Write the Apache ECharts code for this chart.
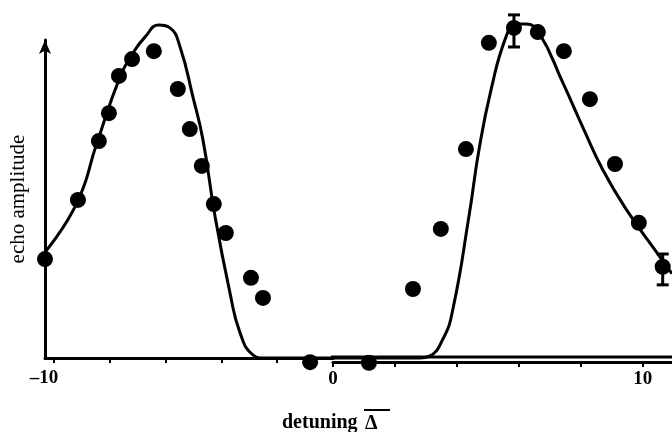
<!DOCTYPE html>
<html>
<head>
<meta charset="utf-8">
<script src="https://cdn.jsdelivr.net/npm/echarts@6/dist/echarts.min.js"></script>
<style>
  html, body { margin: 0; padding: 0; background: #fff; }
  #chart { width: 672px; height: 432px; }
</style>
</head>
<body>
<div id="chart"></div>
<script>
// Measured echo amplitude (dots) against detuning, negative side
const leftDotX = [-10.32, -9.14, -8.39, -8.03, -7.67, -7.20, -6.42, -5.56, -5.13, -4.70, -4.27, -3.84, -2.94, -2.51, -0.82];
const leftDotY = [0.311, 0.497, 0.682, 0.770, 0.887, 0.940, 0.965, 0.846, 0.720, 0.604, 0.484, 0.393, 0.252, 0.189, -0.013];

// Measured echo amplitude, positive side
const rightDotX = [1.16, 2.58, 3.48, 4.29, 5.03, 5.84, 6.61, 7.45, 8.29, 9.10, 9.87, 10.64];
const rightDotY = [-0.015, 0.217, 0.406, 0.657, 0.991, 1.038, 1.025, 0.965, 0.814, 0.610, 0.425, 0.287];

// Error bars on two of the points
const errX = [5.84, 10.64];
const errLow = [0.978, 0.230];
const errHigh = [1.079, 0.327];

// Theory curve, negative side
const leftCurveX = [-10.32, -9.18, -8.46, -7.63, -7.17, -6.74, -6.24, -5.84, -5.48, -5.02, -4.66, -4.23, -3.69, -3.33, -2.87, -2.44, 0];
const leftCurveY = [0.333, 0.487, 0.676, 0.884, 0.959, 1.009, 1.047, 1.038, 0.978, 0.821, 0.686, 0.447, 0.204, 0.079, 0.010, 0, 0];

// Theory curve, positive side
const rightCurveX = [0, 2.81, 3.10, 3.55, 3.87, 4.39, 4.71, 5.10, 5.58, 5.90, 6.23, 6.65, 7.42, 8.06, 8.71, 9.48, 10.55, 10.94];
const rightCurveY = [0, 0, 0.005, 0.060, 0.154, 0.447, 0.654, 0.843, 1.009, 1.050, 1.050, 1.022, 0.865, 0.726, 0.591, 0.465, 0.318, 0.265];

// Zero level of the theory curve
const zeroLineX = [-0.32, 10.94];
const zeroLineY = [0.003, 0.003];

// Tick marks and labelled ticks on the detuning axis
const leftTicks = [-10, -8, -6, -4, -2];
const leftLabels = [-10];
const rightTicks = [0, 2, 4, 6, 8, 10];
const rightLabels = [0, 10];

const zip = (xs, ys) => xs.map((x, i) => [x, ys[i]]);
const FONT = 'Liberation Serif';
const INK = '#000';

const tickStyle = { show: true, inside: false, length: 5, lineStyle: { color: INK, width: 2 } };
const labelStyle = {
  show: true, color: INK, fontFamily: FONT, fontSize: 19, fontWeight: 'bold',
  formatter: v => (v < 0 ? '\u2013' + Math.abs(v) : String(v))
};

const chart = echarts.init(document.getElementById('chart'), null, { renderer: 'canvas' });

chart.setOption({
  animation: false,
  backgroundColor: '#fff',
  grid: [
    { left: 45, right: 339, top: 40, bottom: 74 },
    { left: 333, right: 0, top: 40, bottom: 70 }
  ],
  xAxis: [
    {
      type: 'value', gridIndex: 0, min: -10.32, max: 0,
      axisLine: { show: true, onZero: false, lineStyle: { color: INK, width: 3 } },
      axisTick: Object.assign({ customValues: leftTicks }, tickStyle),
      axisLabel: Object.assign({ customValues: leftLabels, margin: 11, padding: [0, 20, 0, 0] }, labelStyle),
      splitLine: { show: false }
    },
    {
      type: 'value', gridIndex: 1, min: 0, max: 10.94,
      axisLine: { show: true, onZero: false, lineStyle: { color: INK, width: 3 } },
      axisTick: Object.assign({ customValues: rightTicks }, tickStyle),
      axisLabel: Object.assign({ customValues: rightLabels, margin: 8 }, labelStyle),
      splitLine: { show: false }
    }
  ],
  yAxis: [
    {
      type: 'value', gridIndex: 0, min: 0, max: 1,
      name: 'echo amplitude', nameLocation: 'middle', nameRotate: 90, nameGap: 16,
      nameTextStyle: { color: INK, fontFamily: FONT, fontSize: 21 },
      axisLine: {
        show: true, onZero: false, symbol: ['none', 'arrow'], symbolSize: [9, 14],
        lineStyle: { color: INK, width: 3 }
      },
      axisTick: { show: false }, axisLabel: { show: false }, splitLine: { show: false }
    },
    {
      type: 'value', gridIndex: 1, min: -0.0126, max: 1,
      show: false, splitLine: { show: false }
    }
  ],
  graphic: [
    {
      type: 'text', left: 282, top: 413,
      style: { text: 'detuning', fill: INK, font: 'bold 20px "Liberation Serif"' }
    },
    {
      type: 'text', left: 365, top: 414,
      style: { text: '\u0394', fill: INK, font: 'bold 20px "Liberation Serif"' }
    },
    {
      type: 'rect', shape: { x: 364, y: 409, width: 26, height: 2 },
      style: { fill: INK }
    }
  ],
  series: [
    {
      name: 'zero level', type: 'line', xAxisIndex: 1, yAxisIndex: 1,
      data: zip(zeroLineX, zeroLineY), showSymbol: false, clip: false,
      lineStyle: { color: INK, width: 3 }, silent: true
    },
    {
      name: 'theory (−)', type: 'line', xAxisIndex: 0, yAxisIndex: 0,
      data: zip(leftCurveX, leftCurveY), smooth: 0.5, showSymbol: false, clip: false,
      lineStyle: { color: INK, width: 3 }
    },
    {
      name: 'theory (+)', type: 'line', xAxisIndex: 1, yAxisIndex: 1,
      data: zip(rightCurveX, rightCurveY), smooth: 0.5, showSymbol: false, clip: false,
      lineStyle: { color: INK, width: 3 }
    },
    {
      name: 'data (−)', type: 'scatter', xAxisIndex: 0, yAxisIndex: 0,
      data: zip(leftDotX, leftDotY), symbol: 'circle', symbolSize: 16, clip: false,
      itemStyle: { color: INK, opacity: 1 }
    },
    {
      name: 'data (+)', type: 'scatter', xAxisIndex: 1, yAxisIndex: 1,
      data: zip(rightDotX, rightDotY), symbol: 'circle', symbolSize: 16, clip: false,
      itemStyle: { color: INK, opacity: 1 }
    },
    {
      name: 'error', type: 'custom', xAxisIndex: 1, yAxisIndex: 1, clip: false,
      data: errX.map((x, i) => [x, errLow[i], errHigh[i]]),
      renderItem: (params, api) => {
        const lo = api.coord([api.value(0), api.value(1)]);
        const hi = api.coord([api.value(0), api.value(2)]);
        const half = 6;
        const st = { stroke: INK, lineWidth: 3 };
        return {
          type: 'group',
          children: [
            { type: 'line', shape: { x1: lo[0], y1: lo[1], x2: hi[0], y2: hi[1] }, style: st },
            { type: 'line', shape: { x1: lo[0] - half, y1: lo[1], x2: lo[0] + half, y2: lo[1] }, style: st },
            { type: 'line', shape: { x1: hi[0] - half, y1: hi[1], x2: hi[0] + half, y2: hi[1] }, style: st }
          ]
        };
      }
    }
  ]
});
</script>
</body>
</html>
